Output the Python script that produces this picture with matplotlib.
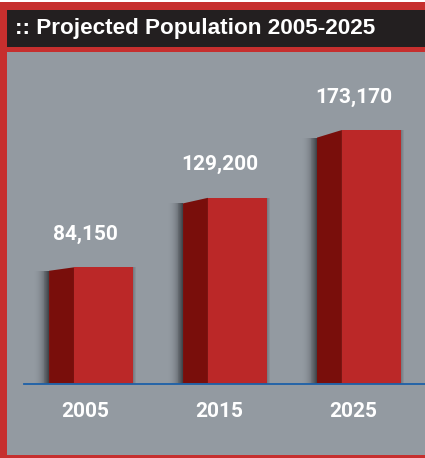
import matplotlib
matplotlib.use("Agg")
import matplotlib.pyplot as plt
from matplotlib.patches import Rectangle, Polygon

# chart data
years = ["2005", "2015", "2025"]
population = [84150, 129200, 173170]
title = ":: Projected Population 2005-2025"

W, H = 425, 458
RED = "#c62f2e"
BAR_DARK = "#231f20"
PANEL = "#939aa1"
FRONT = "#bb2828"
SIDE = "#790e0b"
BLUE = "#1c60a8"


def px_box(x0, y0, x1, y1):
    """pixel box (top-left origin) -> figure fraction rect"""
    return (x0 / W, 1 - y1 / H), (x1 - x0) / W, (y1 - y0) / H


fig = plt.figure(figsize=(W / 100, H / 100), dpi=100, facecolor="white")
for box, col in [((0, 2, W, H), RED), ((7, 10, W, 47), BAR_DARK), ((7, 52, W, 455), PANEL)]:
    xy, w, h = px_box(*box)
    fig.add_artist(Rectangle(xy, w, h, transform=fig.transFigure, color=col, lw=0, zorder=-10))

fig.text(15 / W, 1 - 28.5 / H, title, color="white", fontsize=16.2, fontweight="bold",
         family="Liberation Sans", va="center", ha="left")

(axl, axb), axw, axh = px_box(24, 52, W, 383.5)
ax = fig.add_axes([axl, axb, axw, axh])
ax.set_zorder(5)
ax.set_facecolor("none")
ylo, yhi = 8818, 223743
ax.set_xlim(-0.5, 2.493)
ax.set_ylim(ylo, yhi)

front_l, front_r, side_l = -0.127, 0.313, -0.313
shadow_w, n_sh = 0.11, 16
for i, v in enumerate(population):
    drop = 0.03 * (v - ylo)
    # soft shadow falling to the left of the side face
    for k in range(n_sh):
        a = 0.75 * (1 - k / n_sh) ** 2
        ax.add_patch(Rectangle((i + side_l - (k + 1) * shadow_w / n_sh, ylo), shadow_w / n_sh,
                               v - drop - ylo, color="#25282d", alpha=a, lw=0, zorder=1))
    for k in range(3):
        ax.add_patch(Rectangle((i + front_r + k * 0.008, ylo), 0.008, v - ylo,
                               color="#25282d", alpha=0.25 * (1 - k / 3), lw=0, zorder=1))
    ax.add_patch(Polygon([(i + side_l, ylo), (i + front_l, ylo), (i + front_l, v),
                          (i + side_l, v - drop)], closed=True, color=SIDE, lw=0, zorder=2))
    ax.bar(i + (front_l + front_r) / 2, v - ylo, bottom=ylo, width=front_r - front_l,
           color=FRONT, lw=0, zorder=2)
    ax.annotate(f"{v:,}", xy=(i - 0.04, v), xytext=(0, 33), textcoords="offset pixels",
                ha="center", va="center", color="white", fontsize=15,
                fontweight="bold", family="Roboto")

ax.set_xticks([i - 0.04 for i in range(len(years))])
ax.set_xticklabels(years, color="white", fontsize=15, fontweight="bold", family="Roboto")
ax.tick_params(axis="x", length=0, pad=13)
ax.set_yticks([])
for s in ("top", "left", "right"):
    ax.spines[s].set_visible(False)
ax.spines["bottom"].set_color(BLUE)
ax.spines["bottom"].set_linewidth(1.3)
ax.spines["bottom"].set_zorder(3)

fig.savefig("out.png", dpi=100)
